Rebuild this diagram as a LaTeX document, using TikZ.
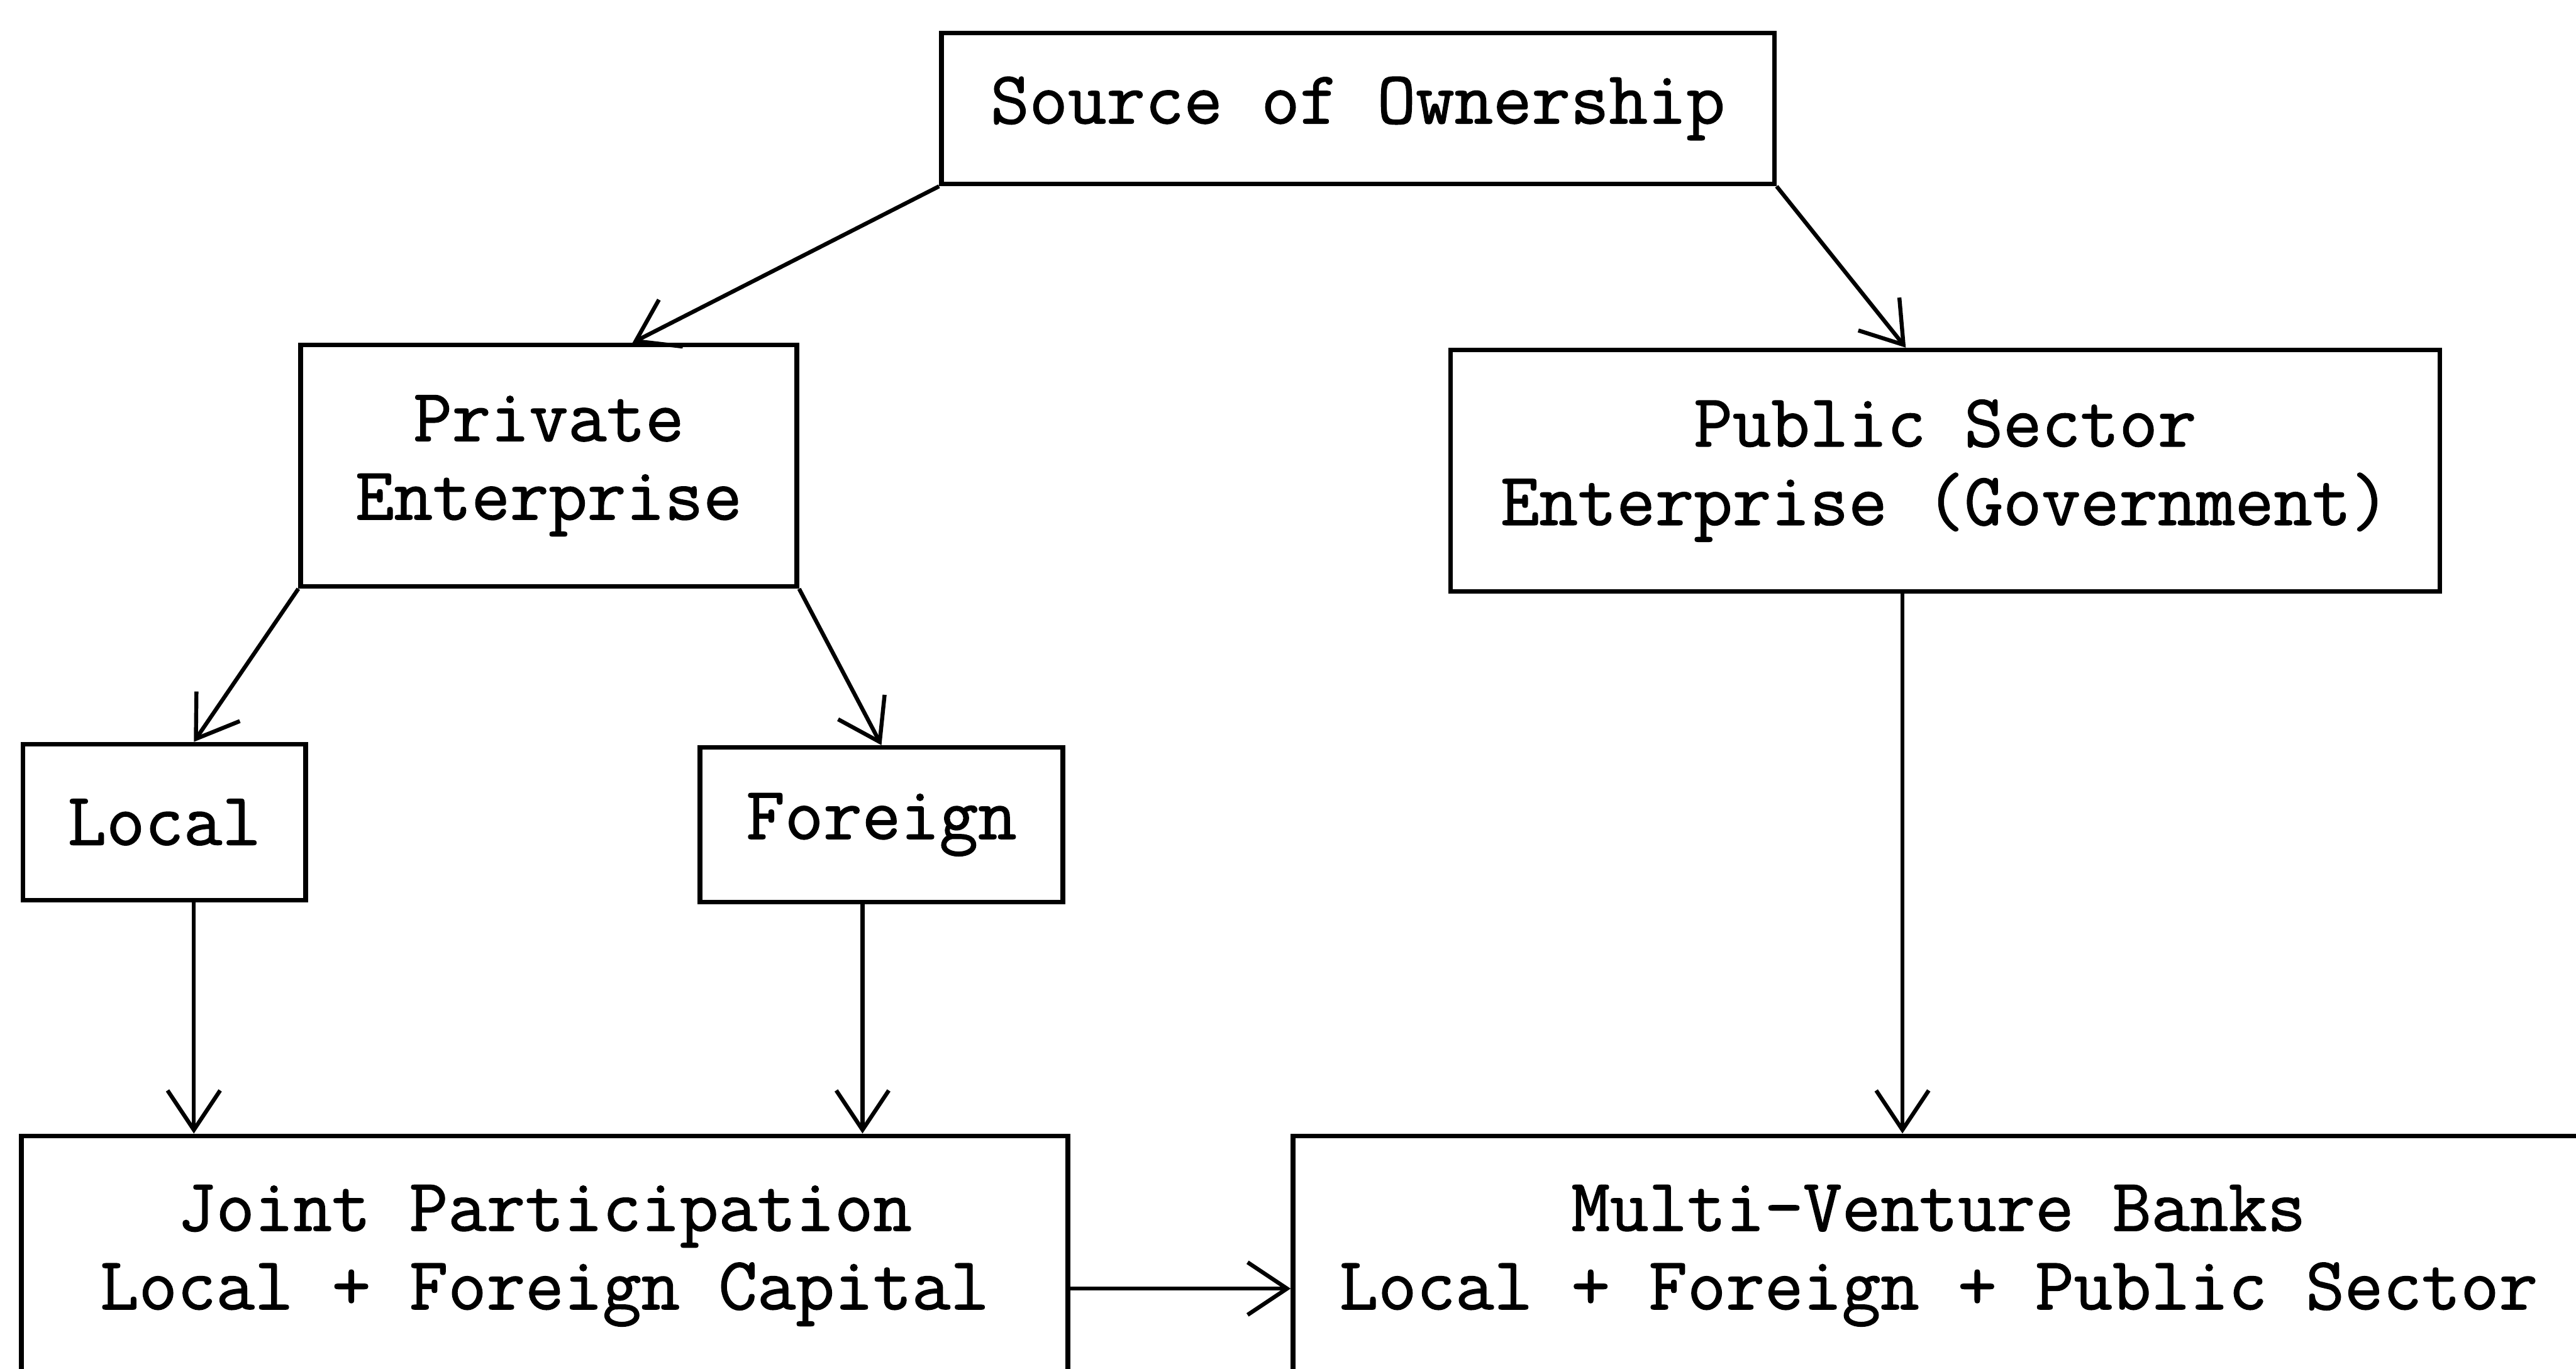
\documentclass[tikz,border=0pt]{standalone}
\usepackage{fontspec}
\setmonofont[FakeBold=1.2]{Latin Modern Mono}
\usetikzlibrary{arrows.meta}

\begin{document}
\begin{tikzpicture}[
	box/.style={draw, line width=0.8pt, inner sep=0pt, align=center, font=\ttfamily\fontsize{13}{13.6}\selectfont},
	arr/.style={-{Straight Barb[length=2.4mm,width=3.2mm]}, line width=0.7pt}]
	\clip (0,0) rectangle (15.68,-8.33);
	\node[box, minimum width=5.07cm, minimum height=0.92cm] (src) at (8.265,-0.66) {Source of Ownership};
	\node[box, minimum width=3.02cm, minimum height=1.47cm] (priv) at (3.34,-2.835) {Private\\Enterprise};
	\node[box, minimum width=6.02cm, minimum height=1.47cm] (pub) at (11.84,-2.865) {Public Sector\\Enterprise (Government)};
	\node[box, minimum width=1.72cm, minimum height=0.95cm] (local) at (1.00,-5.005) {Local};
	\node[box, minimum width=2.21cm, minimum height=0.94cm] (foreign) at (5.365,-5.02) {Foreign};
	\node[box, anchor=north, minimum width=6.37cm, minimum height=1.46cm] (joint) at (3.315,-6.90) {Joint Participation\\Local + Foreign Capital};
	\node[box, anchor=north, minimum width=7.86cm, minimum height=1.46cm] (multi) at (11.80,-6.90) {Multi-Venture Banks\\Local + Foreign + Public Sector};
	\draw[arr] (src.south west) -- ([xshift=5.1mm]priv.north);
	\draw[arr] (src.south east) -- ([xshift=-2.4mm]pub.north);
	\draw[arr] (priv.south west) -- ([xshift=1.8mm]local.north);
	\draw[arr] (priv.south east) -- (foreign.north);
	\draw[arr] ([xshift=1.8mm]local.south) -- ([xshift=1.8mm]local.south |- joint.north);
	\draw[arr] ([xshift=-1.15mm]foreign.south) -- ([xshift=-1.15mm]foreign.south |- joint.north);
	\draw[arr] ([xshift=-2.6mm]pub.south) -- ([xshift=-2.6mm]pub.south |- multi.north);
	\draw[arr] ([yshift=-2mm]joint.east) -- ([yshift=-2mm]joint.east -| multi.west);
\end{tikzpicture}
\end{document}
